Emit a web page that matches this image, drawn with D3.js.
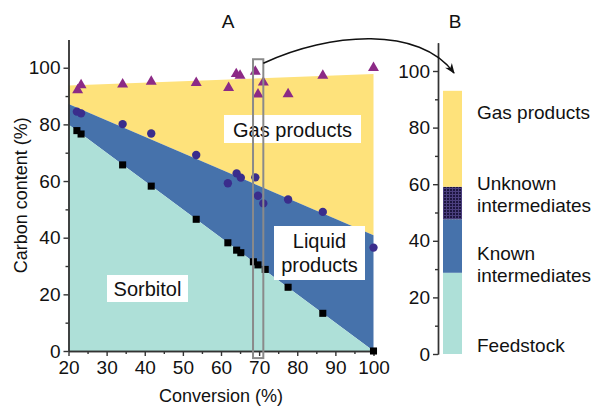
<!DOCTYPE html>
<html>
<head>
<meta charset="utf-8">
<script src="https://cdn.jsdelivr.net/npm/d3@7"></script>
<style>
  html, body { margin: 0; padding: 0; background: #fff; }
  svg { display: block; font-family: "Liberation Sans", Arial, sans-serif; }
  .axis path, .axis line { stroke: #333; stroke-width: 1.4; }
  .axis text { font-size: 19px; fill: #111; font-family: "Liberation Sans", Arial, sans-serif; }
</style>
</head>
<body>
<svg id="chart" width="593" height="407"></svg>
<script>
// ---- Panel A: carbon balance vs conversion ----
const convEnds = [20, 100];
const sorbitolTop = [80, 0];
const liquidTop = [87.2, 40.9];
const gasTop = [93.7, 97.8];

// measured points
const triConv = [22.4, 23.3, 34.2, 41.7, 53.5, 62.0, 64.0, 65.0, 69.0, 69.7, 71.1, 77.6, 86.7, 100];
const triVal  = [92.1, 93.9, 94.1, 95.1, 94.7, 92.9, 97.8, 97.2, 98.6, 90.6, 94.8, 90.7, 97.2, 100];
const cirConv = [22.2, 23.3, 34.2, 41.7, 53.5, 61.8, 64.1, 65.2, 69.0, 69.7, 71.1, 77.6, 86.7, 100];
const cirVal  = [84.5, 83.9, 80.1, 76.8, 69.2, 59.2, 62.7, 61.2, 61.3, 54.8, 52.1, 53.5, 49.1, 36.5];
const sqConv  = [22.2, 23.3, 34.2, 41.7, 53.5, 61.8, 64.1, 65.2, 68.5, 69.7, 71.6, 77.6, 86.7, 100];
const sqVal   = [77.8, 76.6, 65.7, 58.2, 46.5, 38.2, 35.6, 34.7, 31.5, 30.4, 28.8, 22.5, 13.3, 0];

const xTicks = [20, 30, 40, 50, 60, 70, 80, 90, 100];
const yTicks = [0, 20, 40, 60, 80, 100];
const highlightConv = [68.4, 71.1];
const highlightVal = [-2.5, 103];

// ---- Panel B: breakdown at 70% conversion ----
const fractionNames = ["Feedstock", "Known intermediates", "Unknown intermediates", "Gas products"];
const fractionValues = [28.7, 18.9, 11.5, 33.9];

const colors = {
  teal: "#aee0d8",
  blue: "#4672ab",
  yellow: "#fee27b",
  tri: "#8c2a86",
  cir: "#3a2d8c",
  sq: "#000000"
};

const svg = d3.select("#chart");

// patterned fill for unknown intermediates
const defs = svg.append("defs");
const pat = defs.append("pattern").attr("id", "unkPat")
  .attr("patternUnits", "userSpaceOnUse").attr("width", 3).attr("height", 3);
pat.append("rect").attr("width", 3).attr("height", 3).attr("fill", "#4b3f7e");
pat.append("rect").attr("width", 2).attr("height", 2).attr("fill", "#1d1540");

const x = d3.scaleLinear().domain([20, 100]).range([68.5, 373.5]);
const y = d3.scaleLinear().domain([0, 110]).range([351, 39.4]);

// stacked layers
const rows = convEnds.map((c, i) => ({ c, s: sorbitolTop[i], l: liquidTop[i], g: gasTop[i] }));
const area = (lo, hi) => d3.area().x(d => x(d.c)).y0(d => y(lo(d))).y1(d => y(hi(d)));
const gA = svg.append("g");
gA.append("path").datum(rows).attr("fill", colors.yellow).attr("d", area(d => d.l, d => d.g));
gA.append("path").datum(rows).attr("fill", colors.blue).attr("d", area(d => d.s, d => d.l));
gA.append("path").datum(rows).attr("fill", colors.teal).attr("d", area(d => 0, d => d.s));

// axes
const xMinor = d3.range(25, 100, 10);
const yMinor = [10, 30, 50, 70, 90];
svg.append("g").attr("class", "axis").attr("transform", `translate(0,${y(0)})`)
  .call(d3.axisBottom(x).tickValues(xMinor).tickSize(3).tickFormat("").tickSizeOuter(0));
svg.append("g").attr("class", "axis").attr("transform", `translate(0,${y(0)})`)
  .call(d3.axisBottom(x).tickValues(xTicks).tickSize(5).tickPadding(5).tickFormat(d3.format("d")).tickSizeOuter(0));
svg.append("g").attr("class", "axis").attr("transform", `translate(${x(20)},0)`)
  .call(d3.axisLeft(y).tickValues(yMinor).tickSize(3).tickFormat("").tickSizeOuter(0));
svg.append("g").attr("class", "axis").attr("transform", `translate(${x(20)},0)`)
  .call(d3.axisLeft(y).tickValues(yTicks).tickSize(5).tickPadding(3).tickFormat(d3.format("d")).tickSizeOuter(0));

// markers
const sym = (type, size) => d3.symbol().type(type).size(size)();
function drawPoints(cs, vs, type, size, fill) {
  svg.append("g").selectAll("path").data(cs.map((c, i) => [c, vs[i]])).join("path")
    .attr("transform", d => `translate(${x(d[0])},${y(d[1])})`)
    .attr("d", sym(type, size)).attr("fill", fill);
}
drawPoints(sqConv, sqVal, d3.symbolSquare, 50, colors.sq);
drawPoints(cirConv, cirVal, d3.symbolCircle, 55, colors.cir);
drawPoints(triConv, triVal, d3.symbolTriangle, 52, colors.tri);

// in-plot labels
function boxLabel(lines, cx, top, w, h, lineH, firstBase) {
  const g = svg.append("g");
  g.append("rect").attr("x", cx - w / 2).attr("y", top).attr("width", w).attr("height", h).attr("fill", "#fff");
  lines.forEach((t, i) => g.append("text").attr("x", cx).attr("y", top + firstBase + i * lineH)
    .attr("text-anchor", "middle").attr("font-size", 20).attr("fill", "#111").text(t));
}
boxLabel(["Gas products"], 292.5, 115, 137, 28, 0, 21.5);
boxLabel(["Liquid", "products"], 319.5, 226, 91, 54, 23.5, 22);
boxLabel(["Sorbitol"], 147.5, 275, 81, 27, 0, 20.5);

// highlight of the 70 % conversion slice
svg.append("rect")
  .attr("x", x(highlightConv[0])).attr("y", y(highlightVal[1]))
  .attr("width", x(highlightConv[1]) - x(highlightConv[0]))
  .attr("height", y(highlightVal[0]) - y(highlightVal[1]))
  .attr("fill", "none").attr("stroke", "#8a8a8a").attr("stroke-width", 2);

// panel titles and axis titles
svg.append("text").attr("x", 228).attr("y", 28).attr("text-anchor", "middle").attr("font-size", 19).attr("fill", "#111").text("A");
svg.append("text").attr("x", 455).attr("y", 28).attr("text-anchor", "middle").attr("font-size", 19).attr("fill", "#111").text("B");
svg.append("text").attr("x", (x(20) + x(100)) / 2).attr("y", 402).attr("text-anchor", "middle")
  .attr("font-size", 18).attr("fill", "#111").text("Conversion (%)");
svg.append("text").attr("transform", `translate(27,${(y(0) + y(110)) / 2}) rotate(-90)`)
  .attr("text-anchor", "middle").attr("font-size", 18).attr("fill", "#111").text("Carbon content (%)");

// ---- Panel B ----
const yB = d3.scaleLinear().domain([0, 110]).range([354, 42.7]);
const barX = 443, barW = 19;
const fills = [colors.teal, colors.blue, "url(#unkPat)", colors.yellow];
const stacked = [];
let acc = 0;
fractionValues.forEach((v, i) => { stacked.push({ name: fractionNames[i], lo: acc, hi: acc + v, fill: fills[i] }); acc += v; });
svg.append("g").selectAll("rect").data(stacked).join("rect")
  .attr("x", barX).attr("width", barW)
  .attr("y", d => yB(d.hi)).attr("height", d => yB(d.lo) - yB(d.hi))
  .attr("fill", d => d.fill);

svg.append("g").attr("class", "axis").attr("transform", `translate(438,0)`)
  .call(d3.axisLeft(yB).tickValues([10, 30, 50, 70, 90]).tickSize(3).tickFormat("").tickSizeOuter(0));
svg.append("g").attr("class", "axis").attr("transform", `translate(438,0)`)
  .call(d3.axisLeft(yB).tickValues(yTicks).tickSize(5).tickPadding(3).tickFormat(d3.format("d")).tickSizeOuter(0));

const legendLines = [
  { t: "Gas products", y: 118.5 },
  { t: "Unknown", y: 190 },
  { t: "intermediates", y: 212 },
  { t: "Known", y: 259.5 },
  { t: "intermediates", y: 282 },
  { t: "Feedstock", y: 352 }
];
svg.append("g").selectAll("text").data(legendLines).join("text")
  .attr("x", 477).attr("y", d => d.y).attr("font-size", 19).attr("fill", "#111").text(d => d.t);

// connector arrow from the highlighted slice to panel B
defs.append("marker").attr("id", "arrowHead").attr("viewBox", "0 0 10 10")
  .attr("refX", 9).attr("refY", 5).attr("markerWidth", 7).attr("markerHeight", 7)
  .attr("orient", "auto")
  .append("path").attr("d", "M0,1 L10,5 L0,9 L3,5 Z").attr("fill", "#111");
const p = d3.path();
p.moveTo(x(highlightConv[1]), y(highlightVal[1]) + 4);
p.bezierCurveTo(330, 32, 420, 26, 454, 73);
svg.append("path").attr("d", p.toString()).attr("fill", "none").attr("stroke", "#111")
  .attr("stroke-width", 1.5).attr("marker-end", "url(#arrowHead)");
</script>
</body>
</html>
